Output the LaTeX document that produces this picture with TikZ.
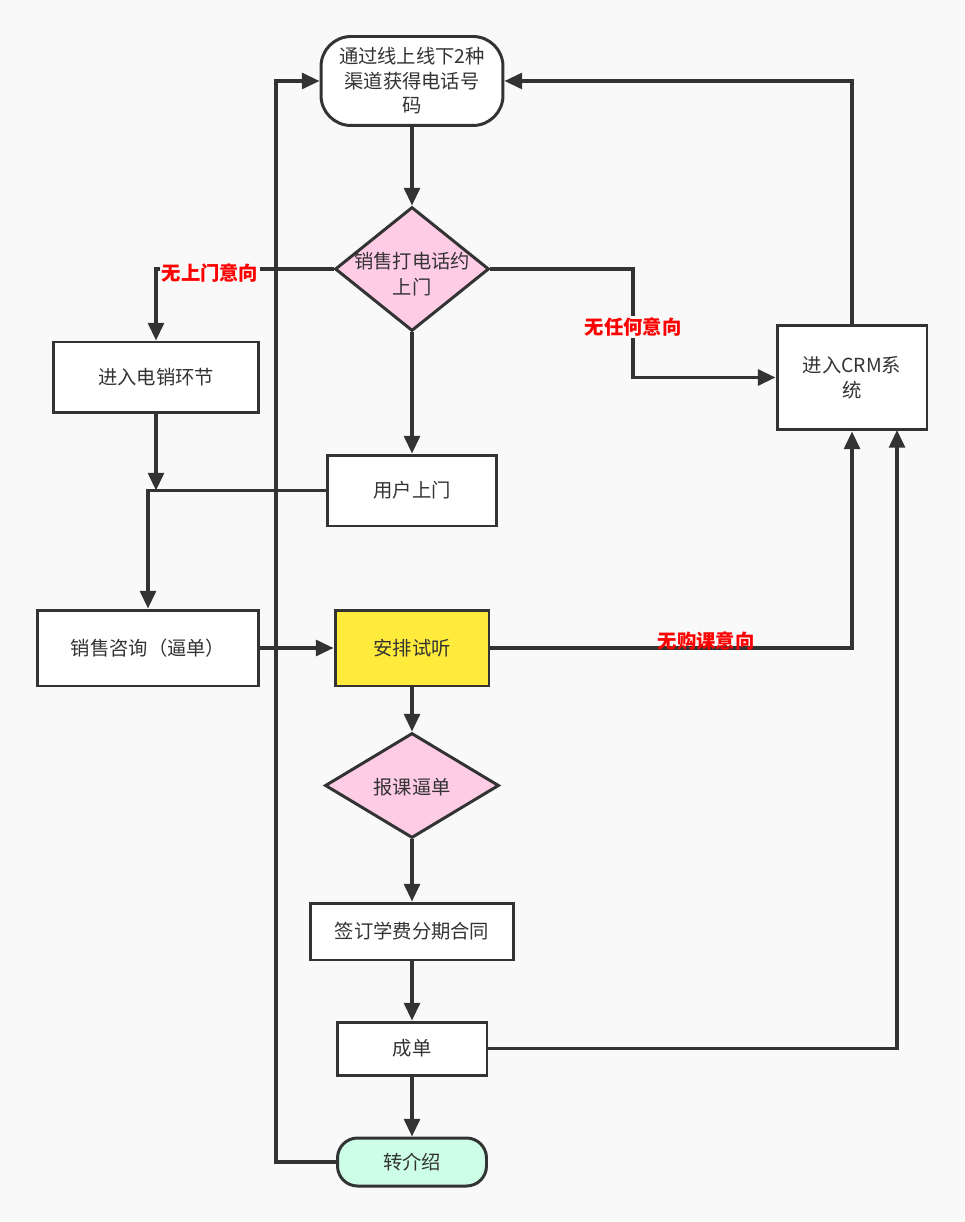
\documentclass[tikz,border=0pt]{standalone}
\usepackage{fontspec}
\setmainfont{Noto Sans CJK SC}
\usetikzlibrary{shapes.geometric,arrows.meta}
\definecolor{bg}{HTML}{F9F9F9}
\definecolor{ln}{HTML}{333333}
\definecolor{pinkf}{HTML}{FFCCE6}
\definecolor{yelf}{HTML}{FFEB3B}
\definecolor{grnf}{HTML}{CCFFE6}
\definecolor{redl}{HTML}{FF0000}
\tikzset{
  base/.style={draw=ln, line width=1.7pt, text=ln, font=\fontsize{11pt}{14pt}\selectfont, align=center, inner sep=0pt},
  box/.style={base, rectangle, fill=white},
  term/.style={base, rectangle, rounded corners=0.6cm},
  dia/.style={base, diamond, fill=pinkf},
  txt/.style={text=ln, font=\fontsize{11pt}{15pt}\selectfont, align=center, inner sep=0pt},
  arr/.style={draw=ln, line width=1.8pt, -{Triangle[length=10pt,width=9pt]}},
  lab/.style={text=redl, font=\fontsize{11pt}{14pt}\selectfont\bfseries, inner sep=1pt},
}
\begin{document}
\begin{tikzpicture}[x=0.02cm,y=-0.02cm]
\fill[bg] (0,0) rectangle (964,1222);
\useasboundingbox (0,0) rectangle (964,1222);

\node[term, fill=white, minimum width=3.64cm, minimum height=1.78cm] (s) at (412,81) {通过线上线下2种\\渠道获得电话号\\码};
\node[dia, minimum width=3.08cm, minimum height=2.48cm] (d1) at (412,269) {};
\node[txt] (d1t) at (412,274) {销售打电话约\\上门};
\node[box, minimum width=4.12cm, minimum height=1.42cm] (en) at (156,377.5) {进入电销环节};
\node[box, minimum width=3.4cm, minimum height=1.42cm] (user) at (412,490.5) {用户上门};
\node[box, minimum width=3cm, minimum height=2.1cm] (crm) at (852,377.5) {进入CRM系\\统};
\node[box, minimum width=4.44cm, minimum height=1.52cm] (xsl) at (148,648) {销售咨询（逼单）};
\node[box, fill=yelf, minimum width=3.08cm, minimum height=1.52cm] (trial) at (412,648) {安排试听};
\node[dia, minimum width=3.48cm, minimum height=2.1cm] (bk) at (412,785.5) {};
\node[txt] (bkt) at (412,787) {报课逼单};
\node[box, minimum width=4.08cm, minimum height=1.14cm] (sign) at (412,931.5) {签订学费分期合同};
\node[box, minimum width=3cm, minimum height=1.06cm] (cd) at (412,1048.5) {成单};
\node[term, fill=grnf, rounded corners=0.4cm, minimum width=2.98cm, minimum height=0.96cm] (zj) at (412,1162) {转介绍};

\coordinate (j) at (156,490.5);
\coordinate (c2) at (897,430);

\draw[arr] (zj.west) -| (276,81) -- (s.west);
\draw[arr] (s.south) -- (d1.north);
\draw[arr] (d1.west) -| (en.north);
\node[lab, fill=bg] (l1) at (210,273) {无上门意向};
\draw[arr] (d1.east) -- (633,269) |- (crm.west);
\node[lab, fill=bg] (l2) at (633,327) {无任何意向};
\draw[arr] (d1.south) -- (user.north);
\draw[arr] (en.south) -- (j);
\draw[arr] (user.west) -| (xsl.north);
\draw[arr] (xsl.east) -- (trial.west);
\draw[arr] (trial.east) -| (crm.south);
\node[lab] (l3) at (706,641) {无购课意向};
\draw[arr] (trial.south) -- (bk.north);
\draw[arr] (bk.south) -- (sign.north);
\draw[arr] (sign.south) -- (cd.north);
\draw[arr] (cd.east) -| (c2);
\draw[arr] (cd.south) -- (zj.north);
\draw[arr] (crm.north) |- (s.east);
\end{tikzpicture}
\end{document}
